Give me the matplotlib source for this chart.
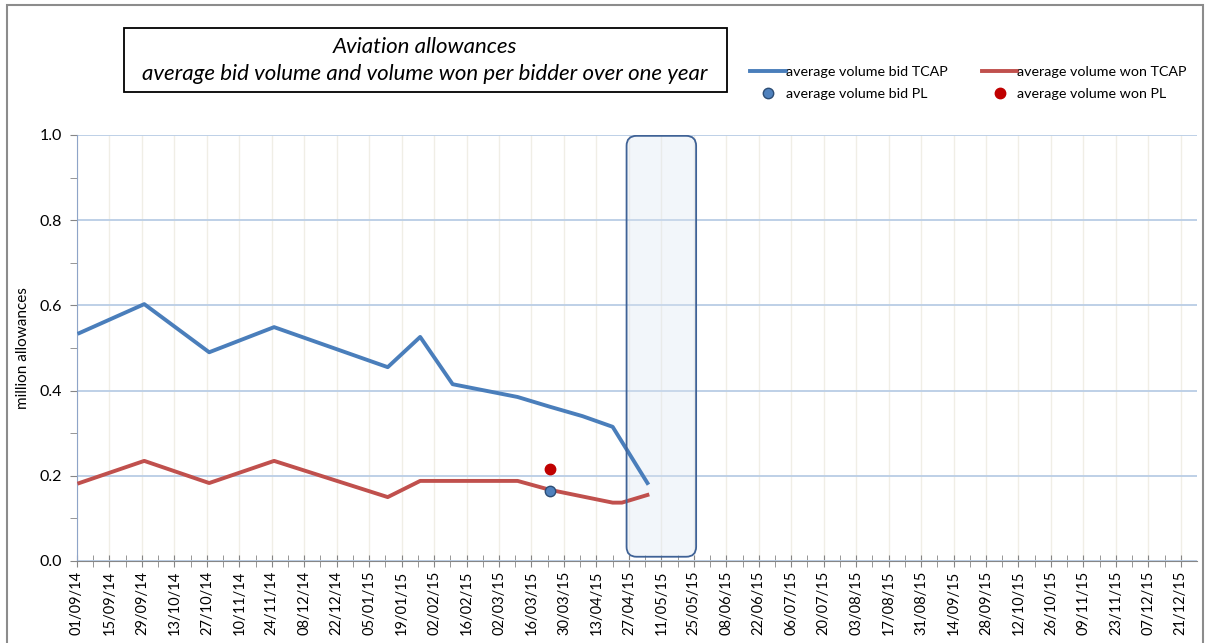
import matplotlib
matplotlib.use('Agg')
import matplotlib.pyplot as plt
import matplotlib.dates as mdates
from matplotlib.patches import FancyBboxPatch, Rectangle
import numpy as np
import pandas as pd

# data
bid_dates = ['2014-09-02', '2014-09-30', '2014-10-28', '2014-11-25', '2015-01-13',
             '2015-01-27', '2015-02-10', '2015-02-24', '2015-03-10', '2015-03-24',
             '2015-04-07', '2015-04-20', '2015-05-05']
bid_tcap = [0.535, 0.603, 0.490, 0.549, 0.455, 0.526, 0.415, 0.400, 0.385, 0.362,
            0.340, 0.315, 0.183]

won_dates = ['2014-09-02', '2014-09-30', '2014-10-28', '2014-11-25', '2015-01-13',
             '2015-01-27', '2015-03-10', '2015-03-24', '2015-04-20', '2015-04-24',
             '2015-05-05']
won_tcap = [0.183, 0.235, 0.183, 0.235, 0.150, 0.188, 0.188, 0.167, 0.137, 0.137, 0.155]

pl_date = '2015-03-24'
bid_pl = 0.164
won_pl = 0.216

tick_start = '2014-09-01'
tick_end = '2015-12-21'
window = ('2015-04-26', '2015-05-26')

bid_dates = pd.to_datetime(bid_dates)
won_dates = pd.to_datetime(won_dates)
pl_date = pd.to_datetime(pl_date)

blue = '#4A7EBB'
red = '#C0504D'

plt.rcParams['font.family'] = ['Lato', 'DejaVu Sans']

fig = plt.figure(figsize=(12.08, 6.43), dpi=100)
ax = fig.add_axes([77/1208, 1-561/643, (1197-77)/1208, (561-135)/643])

ax.plot(bid_dates, bid_tcap, color=blue, lw=2.8, label='average volume bid TCAP', zorder=3)
ax.plot(won_dates, won_tcap, color=red, lw=2.8, label='average volume won TCAP', zorder=3)
ax.plot([pl_date], [bid_pl], 'o', color='#4F81BD', mec='#2C4D75', ms=7.5,
        label='average volume bid PL', zorder=4)
ax.plot([pl_date], [won_pl], 'o', color='#C00000', mec='#C00000', ms=7.5,
        label='average volume won PL', zorder=4)

ticks = pd.date_range(tick_start, tick_end, freq='14D')
x0 = mdates.date2num(pd.Timestamp(tick_start))
ax.set_xlim(x0, mdates.date2num(pd.Timestamp('2015-12-28')))
ax.set_ylim(0, 1.0)
ax.set_xticks(ticks)
ax.set_xticks(pd.date_range('2014-09-08', tick_end, freq='14D'), minor=True)
ax.xaxis.set_major_formatter(mdates.DateFormatter('%d/%m/%y'))
ax.set_yticks(np.arange(0, 1.01, 0.2))
ax.set_yticks(np.arange(0.1, 1.0, 0.2), minor=True)
ax.yaxis.set_major_formatter(plt.FormatStrFormatter('%.1f'))

ax.tick_params(axis='x', which='both', direction='inout', length=8, color='#868686',
               labelsize=10.5, rotation=90, pad=3)
ax.tick_params(axis='y', which='both', direction='out', length=5, color='#868686',
               labelsize=11.5, pad=6)
ax.grid(axis='y', color='#B9CDE5', lw=1.3)
ax.grid(axis='x', which='major', color='#F0EEE6', lw=1)
ax.set_axisbelow(True)
for s in ['top', 'right']:
    ax.spines[s].set_visible(False)
ax.spines['left'].set_color('#8EA4C8')
ax.spines['bottom'].set_color('#868686')
ax.set_ylabel('million allowances', fontsize=11)
ax.yaxis.set_label_coords(-0.042, 0.5)

# highlighted window (rounded box)
wx0 = mdates.date2num(pd.Timestamp(window[0]))
wx1 = mdates.date2num(pd.Timestamp(window[1]))
xpp = 14 / 32.5
ypp = 1 / 426
box = FancyBboxPatch((wx0, 0.01), wx1 - wx0, 0.988,
                     boxstyle='round,pad=0,rounding_size=%f' % (10 * xpp),
                     mutation_aspect=ypp / xpp, fc='#DCE6F2', alpha=0.35,
                     ec='none', zorder=2)
ax.add_patch(box)
edge = FancyBboxPatch((wx0, 0.01), wx1 - wx0, 0.988,
                      boxstyle='round,pad=0,rounding_size=%f' % (10 * xpp),
                      mutation_aspect=ypp / xpp, fc='none', ec='#3F6296',
                      lw=1.3, zorder=5)
ax.add_patch(edge)

# title box
fig.patches.append(Rectangle((124/1208, 1-92/643), (727-124)/1208, 64/643,
                             transform=fig.transFigure, fc='white', ec='black', lw=1.3))
fig.text(425/1208, 1-47/643, 'Aviation allowances', ha='center', va='center',
         fontsize=16, style='italic')
fig.text(425/1208, 1-74/643, 'average bid volume and volume won per bidder over one year',
         ha='center', va='center', fontsize=16, style='italic')

# outer frame
fig.patches.append(Rectangle((7/1208, -0.01), 1196/1208, 1-5/643 + 0.01,
                             transform=fig.transFigure, fc='none', ec='#8C8C8C', lw=1.5))

handles, labels = ax.get_legend_handles_labels()
order = [0, 2, 1, 3]
ax.legend([handles[i] for i in order], [labels[i] for i in order], ncol=2,
          loc='center left', bbox_to_anchor=(737/1208, 1-83/643),
          bbox_transform=fig.transFigure, frameon=False, fontsize=10.3,
          handlelength=2.5, handletextpad=0.0, columnspacing=2.4, labelspacing=0.75)

fig.savefig('out.png', dpi=100)
